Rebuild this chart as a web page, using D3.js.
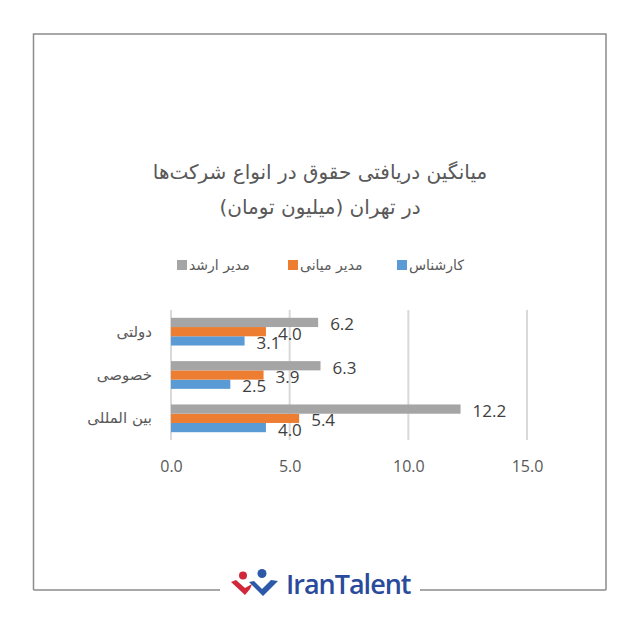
<!DOCTYPE html>
<html><head><meta charset="utf-8">
<script src="https://cdn.jsdelivr.net/npm/d3@7"></script>
<style>body{margin:0;background:#fff}svg{display:block}</style>
</head><body><svg id="c" width="640" height="640"></svg>
<script>
const categories = ["دولتی", "خصوصی", "بین المللی"];
const seriesNames = ["کارشناس", "مدیر میانی", "مدیر ارشد"];
const seriesColors = ["#5B9BD5", "#ED7D31", "#A5A5A5"];
const expertValues = [3.1, 2.5, 4.0];
const middleValues = [4.0, 3.9, 5.4];
const seniorValues = [6.2, 6.3, 12.2];
const xTicks = [0, 5, 10, 15];
const titleLines = ["میانگین دریافتی حقوق در انواع شرکت‌ها", "در تهران (میلیون تومان)"];

const seriesValues = [expertValues, middleValues, seniorValues];
const svg = d3.select("#c");
const fa = "'DejaVu Sans', sans-serif";
const num = "'Open Sans', 'Liberation Sans', sans-serif";
const txt = "#595959";

// frame
svg.append("path").attr("d","M33.5,590 L33.5,34 L606,34 L606,590 M606,590 L420,590 M220,590 L33.5,590")
  .attr("fill","none").attr("stroke","#8c8c8c").attr("stroke-width",1.5);

// title
svg.append("g").selectAll("text").data(titleLines).join("text")
  .attr("x",320).attr("y",(d,i)=>179+i*35).attr("text-anchor","middle")
  .attr("font-family",fa).attr("font-size",20).attr("fill",txt).attr("direction","rtl")
  .text(d=>d);

// scales
const x = d3.scaleLinear().domain([0,15]).range([171,527]);
const y = d3.scaleBand().domain(categories).range([310,440]).paddingInner(0.36).paddingOuter(0.18);
const yInner = d3.scaleBand().domain([2,1,0]).range([0,y.bandwidth()]);

// grid
svg.append("g").selectAll("line").data(xTicks).join("line")
  .attr("x1",d=>x(d)).attr("x2",d=>x(d)).attr("y1",310).attr("y2",440)
  .attr("stroke","#d9d9d9").attr("stroke-width",2);

// axis labels
const xAxis = d3.axisBottom(x).tickValues(xTicks).tickFormat(d3.format(".1f")).tickSize(0).tickPadding(0);
const ax = svg.append("g").attr("transform","translate(0,472)").call(xAxis);
ax.select(".domain").remove();
ax.selectAll("text").attr("font-family",num).attr("font-size",16).attr("fill",txt).attr("dy",0);

// category labels
svg.append("g").selectAll("text").data(categories).join("text")
  .attr("x",152).attr("y",d=>y(d)+y.bandwidth()/2+5).attr("text-anchor","end")
  .attr("font-family",fa).attr("font-size",15).attr("fill",txt).text(d=>d);

// bars
const rows = [];
seriesValues.forEach((vals,s)=>vals.forEach((v,c)=>rows.push({s,c,v})));
svg.append("g").selectAll("rect").data(rows).join("rect")
  .attr("x",x(0)).attr("y",d=>y(categories[d.c])+yInner(d.s))
  .attr("width",d=>x(d.v)-x(0)).attr("height",yInner.bandwidth())
  .attr("fill",d=>seriesColors[d.s]);

// data labels
svg.append("g").selectAll("text").data(rows).join("text")
  .attr("x",d=>x(d.v)+12).attr("y",d=>y(categories[d.c])+yInner(d.s)+yInner.bandwidth()/2+8)
  .attr("font-family",num).attr("font-size",17).attr("fill","#404040")
  .text(d=>d3.format(".1f")(d.v));

// legend
const legX = [397, 288, 177];
const lg = svg.append("g").selectAll("g").data(seriesNames).join("g")
  .attr("transform",(d,i)=>`translate(${legX[i]},265)`);
lg.append("rect").attr("x",0).attr("y",-5).attr("width",10).attr("height",10).attr("fill",(d,i)=>seriesColors[i]);
lg.append("text").attr("x",12).attr("y",5).attr("font-family",fa).attr("font-size",14).attr("fill",txt)
  .attr("text-anchor","start").text(d=>d);

// logo
const logo = svg.append("g");
logo.append("circle").attr("cx",243).attr("cy",575.5).attr("r",4).attr("fill","#d0283a");
logo.append("path").attr("d","M231,582 L236,580 L245,588 L252,584 L250,589 L245,595 Z").attr("fill","#d0283a");
logo.append("circle").attr("cx",262).attr("cy",573.5).attr("r",4.5).attr("fill","#2c59a8");
logo.append("path").attr("d","M249,582 L254,581 L262,589 L271,580 L278,581 L263,596 Z").attr("fill","#2c59a8");
logo.append("text").attr("x",286).attr("y",594).attr("font-family","'Open Sans', sans-serif")
  .attr("font-size",27).attr("font-weight",600).attr("fill","#2a4a9c").attr("letter-spacing",-1).text("IranTalent");
</script></body></html>
